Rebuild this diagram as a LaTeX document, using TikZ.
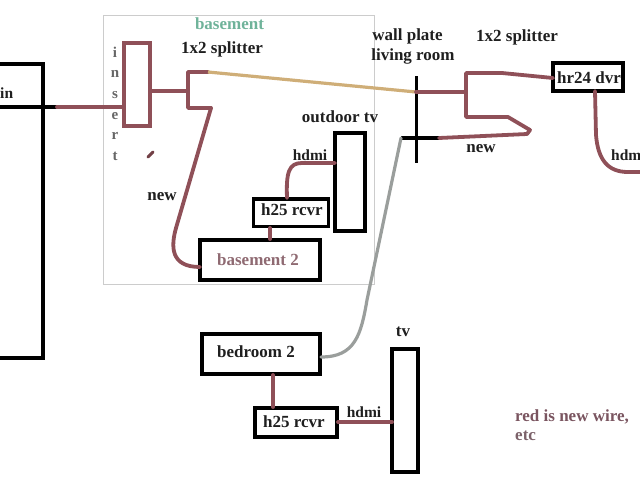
\documentclass[tikz,border=0pt]{standalone}
\usepackage{fontspec}
\setmainfont{Liberation Serif}
\definecolor{wire}{HTML}{8F5058}
\definecolor{tan}{HTML}{CFAE78}
\definecolor{greywire}{HTML}{9A9E9C}
\definecolor{base}{HTML}{6FB39A}
\definecolor{roomline}{HTML}{CCCCCC}
\definecolor{redtext}{HTML}{7A5560}
\definecolor{mauve}{HTML}{8F6A72}
\tikzset{
  x=1pt,y=-1pt,
  blackbox/.style={draw=black,line width=3.8pt,fill=white,inner sep=0pt,outer sep=0pt,anchor=north west},
  wirel/.style={draw=wire,line width=3.8pt,line cap=round,line join=round},
  blackl/.style={draw=black,line width=3.8pt},
  lab/.style={font=\bfseries\fontsize{17}{19}\selectfont,inner sep=0pt,text=black!88},
  labhd/.style={font=\bfseries\fontsize{15.5}{18}\selectfont,inner sep=0pt,text=black!88},
  letter/.style={font=\bfseries\fontsize{15}{17}\selectfont,inner sep=0pt,text=black!60},
}
\begin{document}
\begin{tikzpicture}
\useasboundingbox (0,0) rectangle (640,480);
\clip (0,0) rectangle (640,480);
% basement room
\node[draw=roomline,line width=1pt,minimum width=271pt,minimum height=269pt,inner sep=0pt,outer sep=0pt,anchor=north west] (room) at (103.5,15.5) {};
% left box (runs off the page)
\coordinate (leftTop) at (-5,64);
\coordinate (leftCorner) at (43,64);
\coordinate (leftBot) at (43,358);
\coordinate (leftBotOut) at (-5,358);
\draw[blackl] (leftTop) -- (leftCorner) -- (leftBot) -- (leftBotOut);
\coordinate (lineOut) at (-5,107);
\coordinate (lineMid) at (57,107);
% insert
\node[draw=wire,line width=4.2pt,minimum width=26pt,minimum height=83pt,inner sep=0pt,outer sep=0pt,anchor=north west] (insert) at (124,43) {};
\coordinate (insIn) at (124,107);
\draw[blackl] (lineOut) -- (lineMid);
\draw[wirel] (lineMid) -- (insIn);
% left splitter
\coordinate (s1c) at (188,91);
\coordinate (s1t) at (188,72);
\coordinate (s1b) at (188,108);
\coordinate (s1tEnd) at (208,72);
\coordinate (s1bEnd) at (211,108);
\coordinate (insOut) at (150,91);
\draw[wirel] (insOut) -- (s1c);
\draw[wirel] (s1tEnd) -- (s1t) -- (s1b) -- (s1bEnd);
\coordinate (plateA) at (416,92);
\draw[draw=tan,line width=3.2pt] (s1tEnd) -- (plateA);
\coordinate (dotA) at (148,157);
\coordinate (dotB) at (153,152);
\draw[draw=wire!80!black,line width=3pt,line cap=round] (dotA) -- (dotB);
% boxes in the basement
\node[blackbox,minimum width=120pt,minimum height=40pt] (bas2) at (200,240) {};
\node[blackbox,minimum width=75pt,minimum height=27.5pt] (rc1) at (253.5,199) {};
\node[blackbox,minimum width=30pt,minimum height=98pt] (otv) at (335,133) {};
\coordinate (bas2l) at (200,267);
\draw[wirel] (s1bEnd) -- (176,228) .. controls (171,246) and (170,267) .. (bas2l);
\coordinate (rc1b) at (270,228);
\coordinate (bas2t) at (270,239);
\draw[wirel] (rc1b) -- (bas2t);
\coordinate (otvl) at (335,163);
\coordinate (rc1t) at (287,198);
\draw[wirel] (otvl) -- (302,163) .. controls (289,163) and (286,172) .. (rc1t);
% wall plate
\coordinate (plT) at (416.5,76);
\coordinate (plB) at (416.5,163);
\coordinate (plL) at (401,138);
\coordinate (plR) at (439,138);
\draw[blackl] (plT) -- (plB);
\draw[blackl] (plL) -- (plR);
% right splitter
\coordinate (s2c) at (466,92);
\coordinate (s2t) at (466,73);
\coordinate (s2b) at (466,117);
\draw[wirel] (plateA) -- (s2c);
\node[blackbox,minimum width=70pt,minimum height=28pt] (dvr) at (553,63) {};
\coordinate (dvrl) at (553,78);
\draw[wirel] (dvrl) -- (502,73) -- (s2t) -- (s2b) -- (508,117) -- (530,130) -- (527,134) -- (plR);
\coordinate (dvrb) at (595,91);
\coordinate (hdmiOut) at (645,172);
\draw[wirel] (dvrb) -- (596,135) .. controls (598,160) and (608,172) .. (628,172) -- (hdmiOut);
% lower boxes
\node[blackbox,minimum width=118pt,minimum height=40pt] (bed) at (202,334) {};
\node[blackbox,minimum width=82pt,minimum height=29pt] (rc2) at (255,408) {};
\node[blackbox,minimum width=26pt,minimum height=123pt] (tv) at (392,349) {};
\coordinate (bedr) at (321,357);
\draw[draw=greywire,line width=3.2pt,line cap=round] (plL) -- (367,300) .. controls (361,335) and (355,357) .. (bedr);
\coordinate (bedb) at (273,375);
\coordinate (rc2t) at (273,407);
\draw[wirel] (bedb) -- (rc2t);
\coordinate (rc2r) at (338,422);
\coordinate (tvl) at (392,422);
\draw[wirel] (rc2r) -- (tvl);
% labels
\node[lab,text=base] (tBase) at (229.5,24) {basement};
\node[lab] (tS1) at (222,49) {1x2 splitter};
\node[labhd,anchor=west] (tIn) at (0,93) {in};
\node[letter] (i1) at (115,52) {i};
\node[letter] (i2) at (115,74) {n};
\node[letter] (i3) at (115,95) {s};
\node[letter] (i4) at (115,116) {e};
\node[letter] (i5) at (115,136) {r};
\node[letter] (i6) at (115,156) {t};
\node[lab] (tN1) at (162,197) {new};
\node[lab] (tOtv) at (340,117) {outdoor tv};
\node[labhd] (tH1) at (310,155) {hdmi};
\node[lab] (tR1) at (292,210) {h25 rcvr};
\node[lab,text=mauve] (tB2) at (258,260) {basement 2};
\node[lab] (tW1) at (407.5,36) {wall plate};
\node[lab] (tW2) at (413,56) {living room};
\node[lab] (tS2) at (517,37) {1x2 splitter};
\node[lab] (tDvr) at (589,78) {hr24 dvr};
\node[lab] (tN2) at (481,149) {new};
\node[labhd,anchor=west] (tH2) at (611,155) {hdm};
\node[lab] (tTv) at (403,332) {tv};
\node[lab] (tBed) at (256,352) {bedroom 2};
\node[lab] (tR2) at (294,422) {h25 rcvr};
\node[labhd] (tH3) at (364,412) {hdmi};
\node[lab,text=redtext,anchor=west] (tRed) at (515,417) {red is new wire,};
\node[lab,text=redtext!70!gray,anchor=west] (tEtc) at (515,436) {etc};
\end{tikzpicture}
\end{document}
